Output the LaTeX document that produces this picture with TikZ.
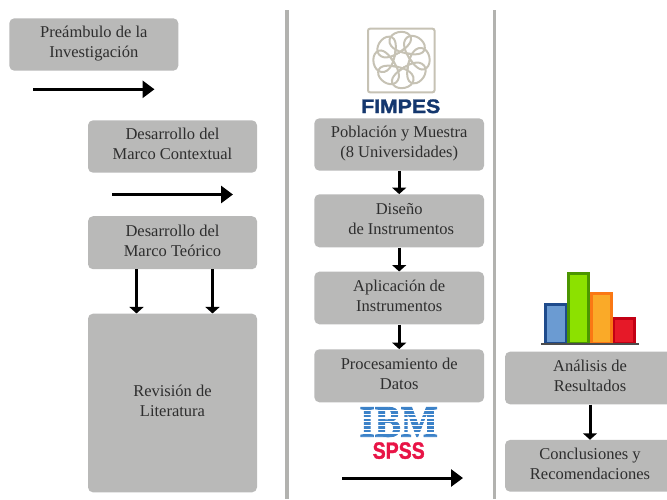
\documentclass[tikz,border=0pt]{standalone}
\usepackage{fontspec}
\setmainfont{Liberation Serif}
\newfontfamily\logofont[FakeBold=1.5]{Liberation Sans}
\newfontfamily\ibmfont[FakeBold=2]{Liberation Serif}
\definecolor{boxgray}{RGB}{185,185,184}
\definecolor{divgray}{RGB}{178,178,175}
\definecolor{logotan}{RGB}{198,194,180}
\definecolor{fimblue}{RGB}{20,55,110}
\definecolor{ibmblue}{RGB}{60,130,200}
\definecolor{spssred}{RGB}{232,20,70}
\definecolor{barblueL}{RGB}{30,75,140}\definecolor{barblueF}{RGB}{107,155,210}
\definecolor{bargreenL}{RGB}{75,150,0}\definecolor{bargreenF}{RGB}{140,225,0}
\definecolor{barorangeL}{RGB}{250,120,20}\definecolor{barorangeF}{RGB}{250,170,40}
\definecolor{barredL}{RGB}{195,0,20}\definecolor{barredF}{RGB}{230,25,40}
\usetikzlibrary{arrows.meta}
\tikzset{
  stagebox/.style={fill=boxgray,draw=none,rounded corners=5pt,align=center,inner sep=0pt,
    font=\fontsize{16.5}{20}\selectfont,text=black!82,
    execute at end node={\rule[-4.5pt]{0pt}{4.5pt}}},
  flowh/.style={-{Triangle[length=12pt,width=17pt]},line width=3pt,black},
  flowv/.style={-{Triangle[length=6.5pt,width=14pt]},line width=3pt,black},
  divider/.style={divgray,line width=3.2pt},
  petal/.style={draw=logotan,line width=2pt,fill=none},
  bar/.style={line width=2.7pt}
}
\begin{document}
\begin{tikzpicture}[x=1pt,y=-1pt]
\useasboundingbox (0,0) rectangle (667,499);
\clip (0,0) rectangle (667,499);
% dividers
\coordinate (d1t) at (287,10); \coordinate (d1b) at (287,499);
\coordinate (d2t) at (494.5,10); \coordinate (d2b) at (494.5,499);
\draw[divider] (d1t) -- (d1b);
\draw[divider] (d2t) -- (d2b);
% boxes
\node[stagebox,minimum width=169pt,minimum height=52.4pt] (a) at (93.8,44.5) {Preámbulo de la\\Investigación};
\node[stagebox,minimum width=169pt,minimum height=52.4pt] (b) at (172.5,146.5) {Desarrollo del\\Marco Contextual};
\node[stagebox,minimum width=169pt,minimum height=53pt] (c) at (172.5,242.7) {Desarrollo del\\Marco Teórico};
\node[stagebox,minimum width=169pt,minimum height=178.7pt] (d) at (172.5,403) {Revisión de\\Literatura};
\node[stagebox,minimum width=169.7pt,minimum height=52.4pt] (e) at (399.2,144.5) {Población y Muestra\\(8 Universidades)};
\node[stagebox,minimum width=169.7pt,minimum height=53pt] (f) at (399.2,220.8) {Diseño\\\hspace*{4pt}de Instrumentos};
\node[stagebox,minimum width=169.7pt,minimum height=52.6pt] (g) at (399.2,298) {Aplicación de\\Instrumentos};
\node[stagebox,minimum width=169.7pt,minimum height=53pt] (h) at (399.2,375.8) {Procesamiento de\\Datos};
\node[stagebox,minimum width=170pt,minimum height=52.6pt] (i) at (590,378) {Análisis de\\Resultados};
\node[stagebox,minimum width=170pt,minimum height=51.7pt] (j) at (590,465.8) {Conclusiones y\\Recomendaciones};
% free arrows
\coordinate (p1s) at (33,89.3); \coordinate (p1e) at (154.5,89.3);
\coordinate (p2s) at (112,194.5); \coordinate (p2e) at (233,194.5);
\coordinate (p3s) at (342,478); \coordinate (p3e) at (463,478);
\draw[flowh] (p1s) -- (p1e);
\draw[flowh] (p2s) -- (p2e);
\draw[flowh] (p3s) -- (p3e);
% connectors
\draw[flowv] (c.south -| 136.5,0) -- (d.north -| 136.5,0);
\draw[flowv] (c.south -| 212.5,0) -- (d.north -| 212.5,0);
\draw[flowv] (e) -- (f);
\draw[flowv] (f) -- (g);
\draw[flowv] (g) -- (h);
\draw[flowv] (i) -- (j);
% FIMPES logo
\draw[logotan,line width=2pt,rounded corners=2pt] (368,28.7) rectangle (434.5,92.3);
\begin{scope}[shift={(401.5,60)}]
\foreach \a in {0,45,...,315}{
  \begin{scope}[rotate=\a]
    \draw[petal] (10,-6) .. controls (-2,-7) and (-13,-12) .. (-12,-20) .. controls (-11,-28) and (3,-31) .. (8,-25) .. controls (13,-19) and (5,-12) .. (-3,-7);
  \end{scope}
}
\end{scope}
\node[font=\logofont\bfseries\fontsize{19.5}{19.5}\selectfont,text=fimblue,inner sep=0pt,xscale=1.09] (fimpes) at (400.7,106.3) {FIMPES};
% IBM SPSS logo
\node[font=\ibmfont\bfseries\fontsize{45}{45}\selectfont,text=ibmblue,inner sep=0pt,xscale=.87,anchor=base] (ibm) at (398.7,436.7) {IBM};
\foreach \y in {410.45,414.2,417.95,421.7,425.45,429.2,432.95}{
  \draw[white,line width=1.4pt] (352,\y) -- (446,\y);
}
\node[font=\logofont\bfseries\fontsize{23.5}{23.5}\selectfont,text=spssred,inner sep=0pt,xscale=.83,anchor=base] (spss) at (398.7,458.7) {SPSS};
% chart
\draw[bar,draw=barblueL,fill=barblueF] (545.7,343) rectangle (566,304.7);
\draw[bar,draw=bargreenL,fill=bargreenF] (568.7,343) rectangle (588.7,273.7);
\draw[bar,draw=barorangeL,fill=barorangeF] (591.4,343) rectangle (611.4,293.4);
\draw[bar,draw=barredL,fill=barredF] (614,343) rectangle (634.7,318.7);
\draw[black!70,line width=2pt] (541,344) -- (639,344);
\end{tikzpicture}
\end{document}
